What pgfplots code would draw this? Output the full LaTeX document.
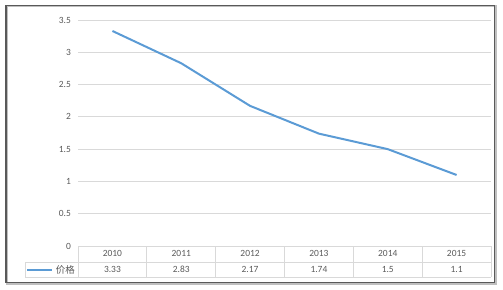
\documentclass[border=0pt]{standalone}
\usepackage{fontspec}
\setmainfont{Carlito}
\newfontfamily\cjk{Noto Sans CJK SC}
\usepackage{pgfplots}
\pgfplotsset{compat=1.18}
\definecolor{linecol}{HTML}{5B9BD5}
\definecolor{gridcol}{HTML}{D9D9D9}
\definecolor{txtcol}{HTML}{595959}
\begin{document}
\begin{tikzpicture}[x=1bp,y=1bp,font=\fontsize{9.5}{11}\selectfont\color{txtcol}]
\useasboundingbox (0,0) rectangle (503,289);
% frame
\draw[line width=2.2bp, black!25] (6.8,5.6) rectangle (495.6,282.6);
\draw[line width=1.3bp, black!65] (6,6.4) rectangle (494.8,283.4);
\begin{axis}[
  at={(78bp,43bp)}, anchor=south west,
  scale only axis, width=413bp, height=226bp,
  xmin=-0.5, xmax=5.5, ymin=0, ymax=3.5,
  ytick={0,0.5,...,3.5},
  yticklabels={0,0.5,1,1.5,2,2.5,3,3.5},
  xtick={0,...,5},
  xticklabels={2010,2011,2012,2013,2014,2015},
  axis line style={draw=none},
  major tick length=0pt,
  ymajorgrids, grid style={gridcol, line width=0.9bp},
  yticklabel style={anchor=east, inner sep=0pt, xshift=-7bp, font=\fontsize{9.5}{11}\selectfont, text=txtcol},
  xticklabel style={anchor=center, inner sep=0pt, yshift=-7.5bp, font=\fontsize{9.5}{11}\selectfont, text=txtcol},
  /pgf/number format/assume math mode=true,
  clip=false,
]
\addplot[linecol, line width=2bp, mark=none] coordinates {
  (0,3.33) (1,2.83) (2,2.17) (3,1.74) (4,1.5) (5,1.1)
};
\addplot[draw=none, mark=none, nodes near coords, point meta=explicit symbolic,
  nodes near coords style={anchor=center, inner sep=0pt, yshift=-23bp, font=\fontsize{9.5}{11}\selectfont, text=txtcol}]
  coordinates {
  (0,0) [3.33] (1,0) [2.83] (2,0) [2.17] (3,0) [1.74] (4,0) [1.5] (5,0) [1.1]
};
\end{axis}
% data table
\begin{scope}[gridcol, line width=0.9bp]
\draw (78,43) -- (491,43);
\draw (25,27) -- (491,27);
\draw (25,12) -- (491,12);
\draw (25,27) -- (25,12);
\foreach \xx in {78,146.83,215.67,284.5,353.33,422.17,491} {
  \draw (\xx,43) -- (\xx,12);
}
\end{scope}
\draw[linecol, line width=2bp] (27,19.5) -- (52,19.5);
\node[anchor=east, inner sep=0pt, text=txtcol] at (75,19.5) {\cjk\fontsize{9.5}{11}\selectfont 价格};
\end{tikzpicture}
\end{document}
